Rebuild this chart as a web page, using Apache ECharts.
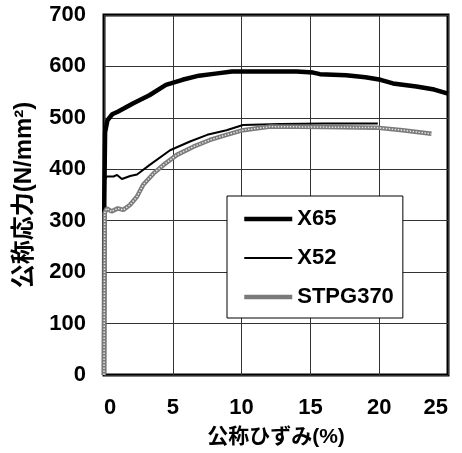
<!DOCTYPE html>
<html>
<head>
<meta charset="utf-8">
<script src="https://cdn.jsdelivr.net/npm/echarts@6/dist/echarts.min.js"></script>
<style>
  html, body { margin: 0; padding: 0; background: #fff; }
  #chart { width: 462px; height: 453px; }
</style>
</head>
<body>
<div id="chart"></div>
<script>
// Nominal stress-strain curves for three pipe steels
const seriesNames = ['X65', 'X52', 'STPG370'];

const x65Strain = [0, 0.02, 0.08, 0.25, 0.6, 1.0, 1.5, 2.1, 3.3, 4.5, 5.7, 6.9, 8.1, 9.3, 10.0, 12.0, 14.0, 15.2, 15.7, 17.6, 19.0, 20.1, 21.0, 22.7, 24.0, 25.0];
const x65Stress = [0, 340, 472, 495, 507, 512, 519, 528, 544, 564, 574, 582, 586, 590, 590, 590, 590, 588, 585, 583, 579, 574, 567, 561, 555, 547];

const x52Strain = [0, 0.05, 0.2, 0.7, 0.95, 1.3, 1.9, 2.4, 3.3, 4.8, 6.25, 7.5, 8.9, 10.1, 12.8, 16.0, 19.9];
const x52Stress = [0, 380, 386, 386, 389, 381, 387, 390, 408, 437, 454, 467, 476, 486, 488, 489, 489];

const stpgStrain = [0, 0.05, 0.2, 0.55, 1.0, 1.4, 1.9, 2.4, 2.85, 3.6, 4.3, 5.3, 6.5, 7.7, 8.9, 10.1, 12.1, 16.0, 19.8, 21.7, 23.8];
const stpgStress = [0, 315, 324, 318, 324, 321, 331, 347, 370, 392, 408, 428, 444, 457, 467, 476, 483, 482, 481, 476, 469];

const xTicks = { min: 0, max: 25, interval: 5 };
const yTicks = { min: 0, max: 700, interval: 100 };

const xName = '公称ひずみ(%)';
const yName = '公称応力(N/mm²)';

// line widths / colours for each steel
const lineWidths = [4.5, 2, 4.5];
const lineColors = ['#000', '#000', '#7a7a7a'];

function pairs(xs, ys) {
  return xs.map((x, i) => [x, ys[i]]);
}

const font = '"Liberation Sans", "Noto Sans CJK JP", sans-serif';

const chart = echarts.init(document.getElementById('chart'), null, { renderer: 'canvas' });

chart.setOption({
  animation: false,
  backgroundColor: '#fff',
  grid: {
    left: 104, right: 14, top: 15, bottom: 78,
    show: true,
    borderColor: '#000',
    borderWidth: 3,
    backgroundColor: '#fff'
  },
  xAxis: {
    type: 'value',
    min: xTicks.min, max: xTicks.max, interval: xTicks.interval,
    name: xName,
    nameLocation: 'middle',
    nameGap: 52,
    nameTextStyle: { fontFamily: font, fontSize: 21, fontWeight: 'bold', color: '#000' },
    axisLine: { show: false },
    axisTick: { show: false },
    axisLabel: {
      margin: 22, fontFamily: font, fontSize: 22, fontWeight: 'bold', color: '#000',
      alignMinLabel: 'left', alignMaxLabel: 'right'
    },
    splitLine: { show: true, lineStyle: { color: '#333', width: 1 } }
  },
  yAxis: {
    type: 'value',
    min: yTicks.min, max: yTicks.max, interval: yTicks.interval,
    name: yName,
    nameLocation: 'middle',
    nameGap: 68,
    nameRotate: 90,
    nameTextStyle: { fontFamily: font, fontSize: 24, fontWeight: 'bold', color: '#000' },
    axisLine: { show: false },
    axisTick: { show: false },
    axisLabel: { margin: 18, fontFamily: font, fontSize: 22, fontWeight: 'bold', color: '#000' },
    splitLine: { show: true, lineStyle: { color: '#333', width: 1 } }
  },
  legend: {
    data: seriesNames.map((name, i) => ({
      name: name,
      lineStyle: { width: lineWidths[i], color: lineColors[i] },
      itemStyle: { opacity: 0 }
    })),
    orient: 'vertical',
    left: 227, top: 196,
    padding: [12, 9, 10, 15],
    itemGap: 17,
    itemWidth: 48,
    itemHeight: 14,
    backgroundColor: '#fff',
    borderColor: '#000',
    borderWidth: 1,
    textStyle: { fontFamily: font, fontSize: 22, fontWeight: 'bold', color: '#000' }
  },
  series: [
    {
      name: seriesNames[0], type: 'line', symbol: 'none',
      data: pairs(x65Strain, x65Stress),
      lineStyle: { color: lineColors[0], width: lineWidths[0] }, itemStyle: { color: lineColors[0] }
    },
    {
      name: seriesNames[1], type: 'line', symbol: 'none',
      data: pairs(x52Strain, x52Stress),
      lineStyle: { color: lineColors[1], width: lineWidths[1] }, itemStyle: { color: lineColors[1] }
    },
    {
      name: seriesNames[2], type: 'line', symbol: 'none',
      data: pairs(stpgStrain, stpgStress),
      lineStyle: { color: lineColors[2], width: lineWidths[2] }, itemStyle: { color: lineColors[2] }
    },
    {
      // light dotted core that gives the STPG370 line its hatched look
      name: 'STPG370 core', type: 'line', symbol: 'none', silent: true,
      data: pairs(stpgStrain, stpgStress),
      lineStyle: { color: '#e4e4e4', width: 1.5, type: [1.5, 1.5] }
    }
  ]
});
</script>
</body>
</html>
